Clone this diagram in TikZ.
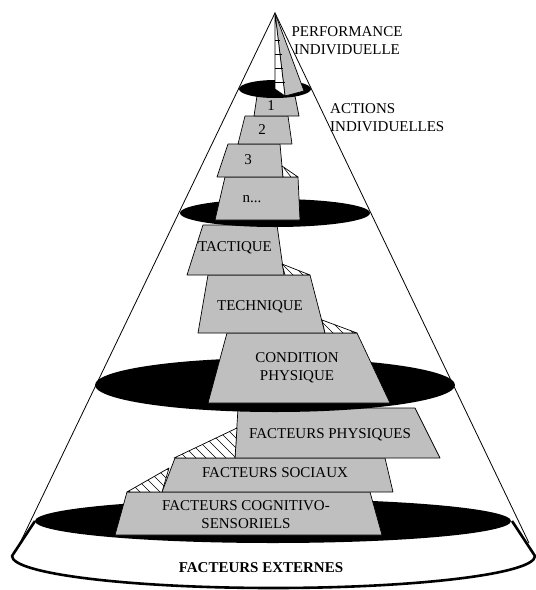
\documentclass[tikz,border=0pt]{standalone}
\usepackage{fontspec}
\setmainfont{Liberation Serif}
\newfontfamily\policeserif{Liberation Serif}
\usepackage{tikz}
\tikzstyle{etage} = [draw, fill=black!25, line width=0.7pt, line join=round]
\tikzstyle{coupe} = [fill=black]
\tikzstyle{cone} = [draw, line width=0.8pt]
\tikzstyle{biseau} = [draw, fill=white, line width=0.7pt, line join=round]
\tikzstyle{texte} = [font=\policeserif\fontsize{15}{18}\selectfont, align=center, inner sep=0pt]
\def\pas{10}

\begin{document}
\begin{tikzpicture}[x=1pt, y=-1pt]
  \useasboundingbox (0,0) rectangle (536,590);
    % Cone
    \coordinate (sommet) at (275,13);
    \coordinate (baseG) at (20,543);
    \coordinate (baseD) at (529,543);
    \draw[cone] (baseG) -- (sommet) -- (baseD);

    % Base : facteurs externes
    \filldraw[fill=white, line width=2.6pt, line join=round] (35,521) -- (12,556)
      arc[start angle=180, end angle=0, x radius=261.5, y radius=32] -- (512,521);
    \fill[coupe] (273,521) ellipse[x radius=238, y radius=22];

    % Facteurs
    \draw[etage] (127,492) -- (370,492) -- (382,535) -- (115,535) -- cycle;
    \draw[etage] (175,458) -- (385,458) -- (393,492) -- (162,492) -- cycle;
    \draw[etage] (238,408) -- (415,408) -- (440,458) -- (235,458) -- cycle;
    \begin{scope}
      \draw[biseau] (169,468) -- (162,492) -- (127,492) -- cycle;
      \clip (169,468) -- (162,492) -- (127,492) -- cycle;
      \foreach \k in {0,...,6}
        \draw[line width=0.6pt] (100+\k*\pas,462) -- ++(34,34);
    \end{scope}
    \begin{scope}
      \draw[biseau] (237,428) -- (235,458) -- (174,458) -- cycle;
      \clip (237,428) -- (235,458) -- (174,458) -- cycle;
      \foreach \k in {0,...,9}
        \draw[line width=0.6pt] (150+\k*\pas,422) -- ++(40,40);
    \end{scope}

    % Condition physique, technique, tactique
    \fill[coupe] (275,385) ellipse[x radius=180, y radius=27];
    \draw[etage] (227,333) -- (357,333) -- (390,403) -- (208,403) -- cycle;
    \draw[etage] (208,275) -- (310,275) -- (325,333) -- (198,333) -- cycle;
    \draw[etage] (203,225) -- (277,225) -- (284,275) -- (187,275) -- cycle;
    \begin{scope}
      \draw[biseau] (322,320) -- (357,333) -- (325,333) -- cycle;
      \clip (322,320) -- (357,333) -- (325,333) -- cycle;
      \foreach \k in {0,...,3}
        \draw[line width=0.6pt] (318+\k*\pas,318) -- ++(16,16);
    \end{scope}
    \begin{scope}
      \draw[biseau] (282,264) -- (310,275) -- (285,275) -- cycle;
      \clip (282,264) -- (310,275) -- (285,275) -- cycle;
      \foreach \k in {0,...,2}
        \draw[line width=0.6pt] (280+\k*\pas,262) -- ++(14,14);
    \end{scope}

    % Actions individuelles
    \fill[coupe] (275,213) ellipse[x radius=95, y radius=14];
    \draw[etage] (225,177) -- (298,177) -- (300,220) -- (215,220) -- cycle;
    \draw[etage] (228,144) -- (280,144) -- (283,177) -- (217,177) -- cycle;
    \draw[etage] (245,116) -- (288,116) -- (292,144) -- (238,144) -- cycle;
    \draw[biseau] (282,166) -- (298,177) -- (283,177) -- cycle;
    \draw[line width=0.6pt] (284,168) -- (291,177);
    \draw[etage] (257,96) -- (295,96) -- (299,116) -- (254,116) -- cycle;
    \fill[coupe] (275,89) ellipse[x radius=36, y radius=9];

    % Performance
    \draw[etage] (sommet) -- (304,91) -- (285,96) -- cycle;
    \draw[biseau] (sommet) -- (285,96) -- (275,89) -- cycle;
    \foreach \h in {40,54,68,82}
      \draw[line width=0.6pt] (275,\h) -- (275+10*\h/83,\h);

    % Place nodes
    \node[texte] (t1) at (271,106) {1};
    \node[texte] (t2) at (262,130) {2};
    \node[texte] (t3) at (248,160) {3};
    \node[texte] (tn) at (252,199) {n...};
    \node[texte] (tactique) at (235,248) {TACTIQUE};
    \node[texte] (technique) at (260,307) {TECHNIQUE};
    \node[texte] (condition) at (297,368) {CONDITION\\PHYSIQUE};
    \node[texte] (physiques) at (330,435) {FACTEURS PHYSIQUES};
    \node[texte] (sociaux) at (275,473) {FACTEURS SOCIAUX};
    \node[texte] (cognitif) at (246,515) {FACTEURS COGNITIVO-\\SENSORIELS};
    \node[texte, font=\policeserif\fontsize{15}{18}\selectfont\bfseries] (externes) at (261,568) {FACTEURS EXTERNES};
    \node[texte] (perf) at (347,41) {PERFORMANCE\\INDIVIDUELLE};
    \node[texte, align=left, anchor=west] (actions) at (330,118) {ACTIONS\\INDIVIDUELLES};
\end{tikzpicture}
\end{document}
